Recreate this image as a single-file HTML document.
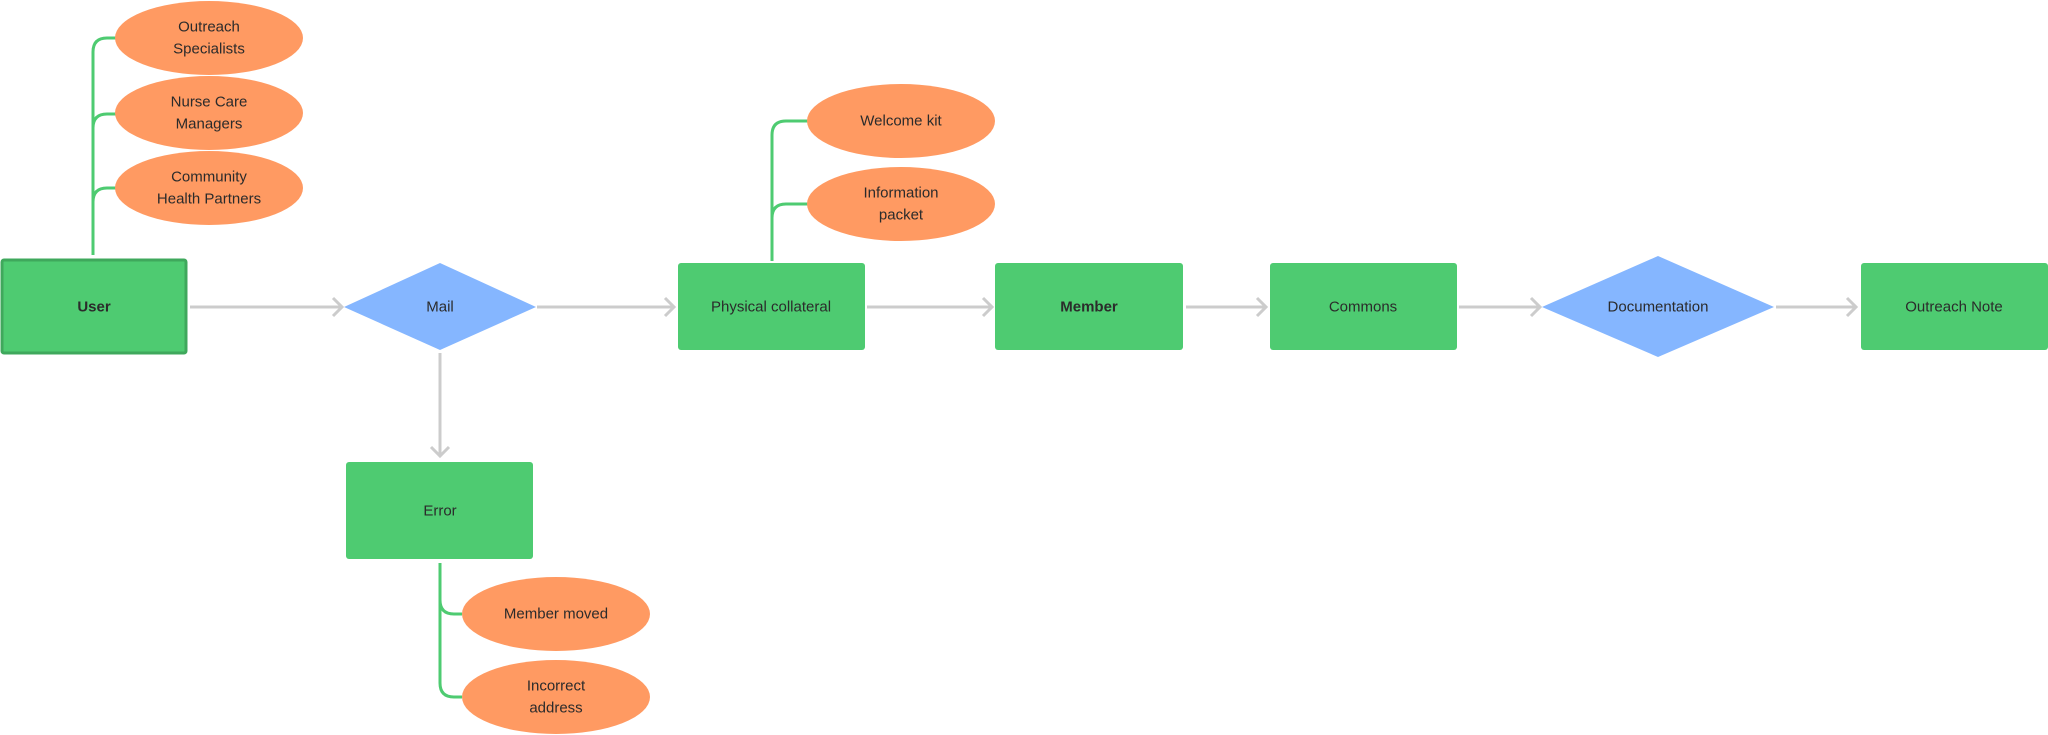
<!DOCTYPE html>
<html><head><meta charset="utf-8"><style>
html,body{margin:0;padding:0;background:#fff;}
svg{display:block;}
text{font-family:"Liberation Sans",Arial,sans-serif;font-size:15px;fill:#2b2b2b;text-anchor:middle;dominant-baseline:central;}
.b{font-weight:bold;}
.g{fill:#4ECB71;}
.o{fill:#FF9A62;}
.d{fill:#85B6FF;}
.a{stroke:#CCCCCC;stroke-width:3;fill:none;}
.t{stroke:#4ECB71;stroke-width:3;fill:none;}
</style></head><body>
<svg width="2048" height="735" viewBox="0 0 2048 735" xmlns="http://www.w3.org/2000/svg">
<!-- user trunk -->
<path class="t" d="M93 255 V52 Q93 38 107 38 H116 M93 128 Q93 114 107 114 H116 M93 202 Q93 188 107 188 H116"/>
<!-- phys trunk -->
<path class="t" d="M772 261 V135 Q772 121 786 121 H808 M772 218 Q772 204 786 204 H808"/>
<!-- error trunk -->
<path class="t" d="M440 563 V600 Q440 614 454 614 H462 M440 600 V683 Q440 697 454 697 H462"/>

<!-- arrows -->
<g class="a">
<path d="M190 307 H342 M333 298 L342 307 L333 316"/>
<path d="M537 307 H674 M665 298 L674 307 L665 316"/>
<path d="M867 307 H992 M983 298 L992 307 L983 316"/>
<path d="M1186 307 H1266 M1257 298 L1266 307 L1257 316"/>
<path d="M1459 307 H1540 M1531 298 L1540 307 L1531 316"/>
<path d="M1776 307 H1856 M1847 298 L1856 307 L1847 316"/>
<path d="M440 353 V456 M431 447 L440 456 L449 447"/>
</g>

<!-- user -->
<rect x="2" y="260" width="184" height="93" rx="2" fill="#4ECB71" stroke="#3FA85C" stroke-width="3"/>
<text x="94" y="307" class="b">User</text>

<ellipse class="o" cx="209" cy="38" rx="94" ry="37"/>
<text x="209" y="27">Outreach</text><text x="209" y="49">Specialists</text>
<ellipse class="o" cx="209" cy="113" rx="94" ry="37"/>
<text x="209" y="102">Nurse Care</text><text x="209" y="124">Managers</text>
<ellipse class="o" cx="209" cy="188" rx="94" ry="37"/>
<text x="209" y="177">Community</text><text x="209" y="199">Health Partners</text>

<!-- mail -->
<polygon class="d" points="440,263 536,307 440,350 344,307"/>
<text x="440" y="307">Mail</text>

<rect class="g" x="678" y="263" width="187" height="87" rx="3"/>
<text x="771" y="307">Physical collateral</text>

<ellipse class="o" cx="901" cy="121" rx="94" ry="37"/>
<text x="901" y="121">Welcome kit</text>
<ellipse class="o" cx="901" cy="204" rx="94" ry="37"/>
<text x="901" y="193">Information</text><text x="901" y="215">packet</text>

<rect class="g" x="995" y="263" width="188" height="87" rx="3"/>
<text x="1089" y="307" class="b">Member</text>

<rect class="g" x="1270" y="263" width="187" height="87" rx="3"/>
<text x="1363" y="307">Commons</text>

<polygon class="d" points="1658,256 1774,307 1658,357 1542,307"/>
<text x="1658" y="307">Documentation</text>

<rect class="g" x="1861" y="263" width="187" height="87" rx="3"/>
<text x="1954" y="307">Outreach Note</text>

<rect class="g" x="346" y="462" width="187" height="97" rx="3"/>
<text x="440" y="511">Error</text>

<ellipse class="o" cx="556" cy="614" rx="94" ry="37"/>
<text x="556" y="614">Member moved</text>
<ellipse class="o" cx="556" cy="697" rx="94" ry="37"/>
<text x="556" y="686">Incorrect</text><text x="556" y="708">address</text>
</svg>
</body></html>
